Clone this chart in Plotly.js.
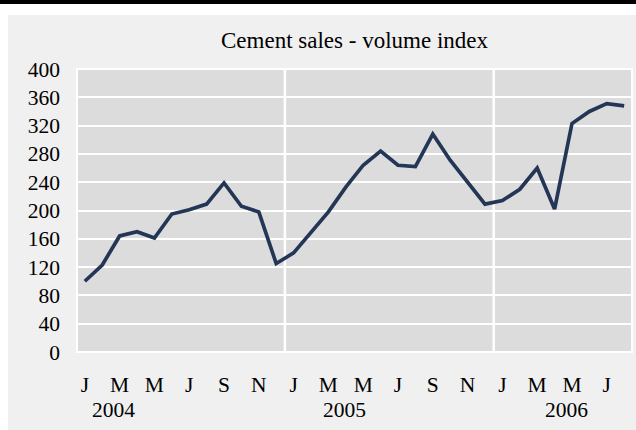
<!DOCTYPE html>
<html><head><meta charset="utf-8">
<script src="https://cdn.plot.ly/plotly-3.0.1.min.js"></script>
<style>
html,body{margin:0;padding:0;background:#fff;width:636px;height:430px;overflow:hidden;}
#bar{position:absolute;left:0;top:0;width:636px;height:4px;background:#000;}
#chart{position:absolute;left:8px;top:15px;width:628px;height:415px;}
</style></head><body>
<div id="bar"></div>
<div id="chart"></div>
<script>
const months = ["Jan","Feb","Mar","Apr","May","Jun","Jul","Aug","Sep","Oct","Nov","Dec"];
const years = ["2004","2005","2006"];
const categories = [];
for (const y of years) for (const m of months) categories.push(m + " " + y);
const periods = categories.slice(0, 32);
const salesIndex = [100,123,164,170,161,195,201,209,239,206,198,125,
                    140,170,198,233,264,284,264,262,308,271,240,209,
                    214,230,260,202,323,340,351,348];
const monthTickText = ["J","M","M","J","S","N","J","M","M","J","S","N","J","M","M","J"];
const monthTickVals = periods.filter((_, i) => i % 2 === 0);
const yearLabels = ["2004","2005","2006"];
const yearLabelPos = [1.67, 14.9, 27.7];
const yearBoundaries = [11.5, 23.5];
const yTicks = [0,40,80,120,160,200,240,280,320,360,400];

const fam = "Liberation Serif, Times New Roman, serif";
const tickFont = {family: fam, size: 21.5, color: "#000"};
const titleFont = {family: fam, size: 23, color: "#000"};

const shapes = yearBoundaries.map(b => ({
  type: "line", xref: "x", yref: "y", x0: b, x1: b, y0: 0, y1: 400,
  line: {color: "#fff", width: 2.5}, layer: "below"
}));
shapes.push({type: "rect", xref: "paper", yref: "paper", x0: 0, x1: 1, y0: 0, y1: 1,
  line: {color: "#fff", width: 2}, layer: "below"});

const annotations = yearLabels.map((t, i) => ({
  text: t, x: yearLabelPos[i], xref: "x", y: 0, yref: "paper",
  yshift: -58, showarrow: false, font: tickFont, xanchor: "center", yanchor: "middle"
}));

Plotly.newPlot("chart", [{
  x: periods, y: salesIndex, type: "scatter", mode: "lines",
  line: {color: "#233656", width: 3.7}, hoverinfo: "skip"
}], {
  width: 628, height: 415,
  paper_bgcolor: "#f0f0f0", plot_bgcolor: "#dcdcdc",
  margin: {l: 69, r: 4, t: 54, b: 78},
  title: {text: "Cement sales - volume index", font: titleFont, x: 0.5, xanchor: "center",
          xref: "paper", y: 1 - 25/415, yref: "container", yanchor: "middle"},
  showlegend: false,
  font: tickFont,
  xaxis: {type: "category", range: [-0.45, 31.45], tickvals: monthTickVals, ticktext: monthTickText,
          showgrid: false, zeroline: false, showline: false, ticks: "", ticklabelstandoff: 17,
          tickfont: tickFont, fixedrange: true},
  yaxis: {range: [0, 400], tickvals: yTicks, showgrid: true, gridcolor: "#fff", gridwidth: 2,
          zeroline: false, showline: false, ticks: "", ticklabelstandoff: 16, tickfont: tickFont,
          fixedrange: true},
  shapes: shapes,
  annotations: annotations
}, {staticPlot: true});
</script>
</body></html>
